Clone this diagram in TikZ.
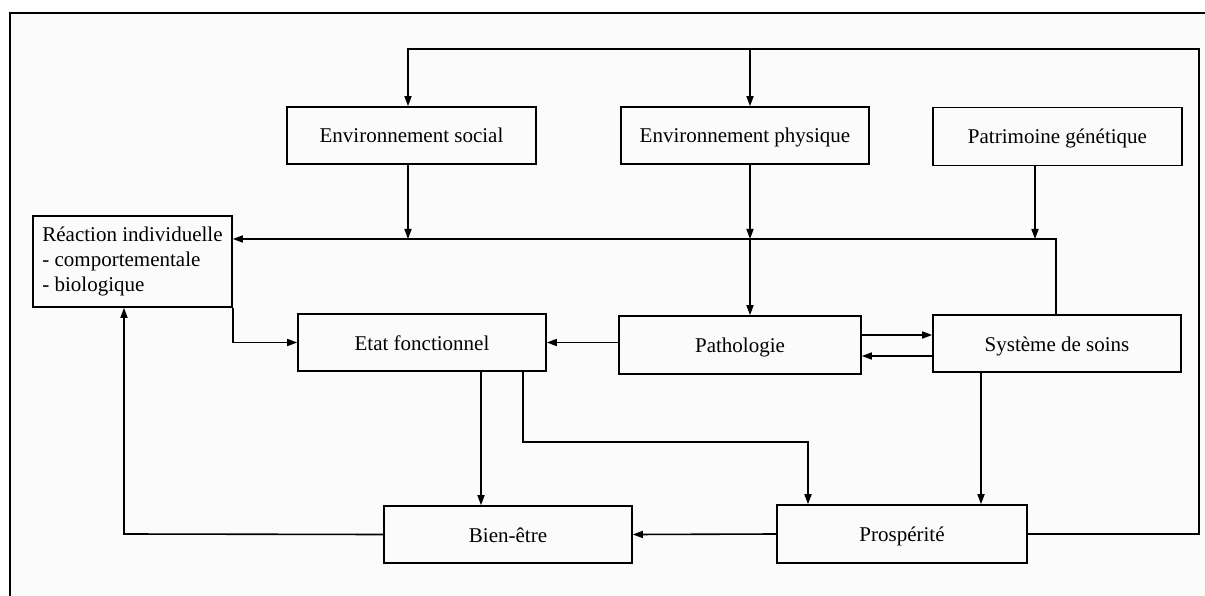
\documentclass[tikz,border=0pt]{standalone}
\usepackage{fontspec}
\setmainfont{Liberation Serif}
\usetikzlibrary{arrows.meta}
\tikzset{
  box/.style={draw, line width=1.6pt, inner sep=0pt, font=\fontsize{21}{25}\selectfont, text height=15pt, text depth=0pt},
  multibox/.style={draw, line width=1.6pt, inner sep=0pt, font=\fontsize{21}{25}\selectfont, align=left},
  conn/.style={line width=1.6pt},
  arr/.style={conn, -{Triangle[length=10pt,width=7pt]}},
  frameline/.style={line width=2.2pt}
}
\begin{document}
\begin{tikzpicture}[x=1pt,y=-1pt]
\useasboundingbox (0,0) rectangle (1205,596);
\fill[gray!3] (10,13) rectangle (1205,596);
\draw[frameline] (10,596) -- (10,13) -- (1205,13);

% boxes
\node[box, minimum width=249pt, minimum height=57pt] (envs) at (411.5,135.5) {Environnement social};
\node[box, minimum width=248pt, minimum height=57pt] (envp) at (745,135.5) {Environnement physique};
\node[box, minimum width=249pt, minimum height=58pt] (patr) at (1057.5,136.5) {Patrimoine génétique};
\node[multibox, minimum width=199pt, minimum height=91pt] (react) at (132.5,261.5) {Réaction individuelle\\- comportementale\\- biologique\phantom{mmmm}};
\node[box, minimum width=248pt, minimum height=57pt] (etat) at (422,342.5) {Etat fonctionnel};
\node[box, minimum width=242pt, minimum height=58pt] (patho) at (740,345) {Pathologie};
\node[box, minimum width=248pt, minimum height=57pt] (sys) at (1057,343.5) {Système de soins};
\node[box, minimum width=248pt, minimum height=57pt] (bien) at (508,534.5) {Bien-être};
\node[box, minimum width=250pt, minimum height=58pt] (prosp) at (902,534) {Prospérité};

% coordinates
\coordinate (tr) at (1199,49);
\coordinate (tl) at (408,49);
\coordinate (tm) at (750,49);
\coordinate (hr) at (1056,239);
\coordinate (hs) at (408,239);
\coordinate (hp) at (750,239);
\coordinate (hg) at (1035,239);
\coordinate (ef) at (523,442);
\coordinate (ep) at (808,442);
\coordinate (bl) at (124,534);
\coordinate (ps) at (0,335);
\coordinate (sp) at (0,356);
\coordinate (s1) at (981,0);
\coordinate (e1) at (481,0);

% top feedback loop
\draw[arr] (prosp.east) -| (tr) -- (tl) -- (tl |- envs.north);
\draw[arr] (tm) -- (tm |- envp.north);

% horizontal line to reaction
\draw[arr] (hr |- sys.north) -- (hr) -- (hr -| react.east);
\draw[arr] (hs |- envs.south) -- (hs);
\draw[arr] (hp |- envp.south) -- (hp);
\draw[arr] (hp) -- (hp |- patho.north);
\draw[arr] (hg |- patr.south) -- (hg);

% middle row
\draw[arr] (react.south east) |- (etat.west);
\draw[arr] (etat.east -| patho.west) -- (etat.east);
\draw[arr] (patho.east |- ps) -- (sys.west |- ps);
\draw[arr] (sys.west |- sp) -- (patho.east |- sp);

% down arrows
\draw[arr] (s1 |- sys.south) -- (s1 |- prosp.north);
\draw[arr] (e1 |- etat.south) -- (e1 |- bien.north);
\draw[arr] (ef |- etat.south) -- (ef) -- (ep) -- (ep |- prosp.north);

% bottom row
\draw[arr] (prosp.west) -- (bien.east);
\draw[arr] (bien.west) -- (bl) -- (bl |- react.south);
\end{tikzpicture}
\end{document}
